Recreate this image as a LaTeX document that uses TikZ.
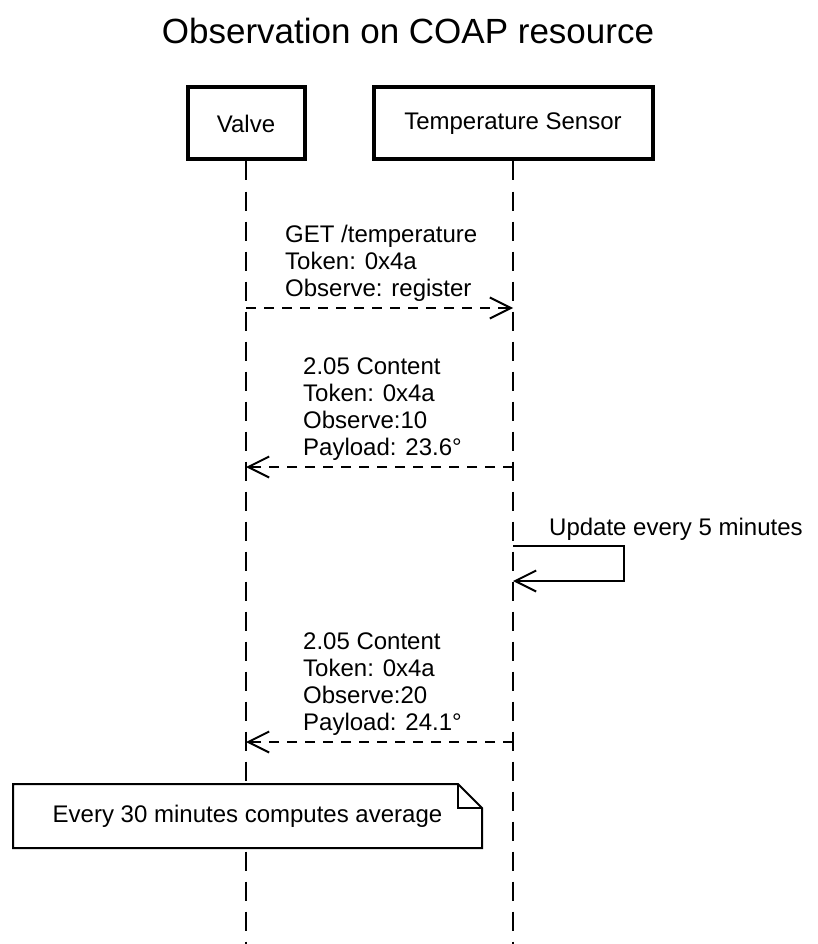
\documentclass[tikz,border=0pt]{standalone}
\usepackage{fontspec}
\setmainfont{Liberation Sans}
\usetikzlibrary{arrows.meta}
\usetikzlibrary{calc}

\begin{document}
\begin{tikzpicture}[x=1pt, y=-1pt,
  txt/.style={font=\fontsize{24}{27}\selectfont},
  actor/.style={txt, draw, line width=4pt, minimum height=72pt, inner sep=0pt},
  life/.style={line width=2pt, dash pattern=on 19pt off 11pt},
  msg/.style={line width=2pt, dash pattern=on 10pt off 8pt,
    -{Straight Barb[length=21pt, width=21pt, line width=2pt]}},
  selfmsg/.style={line width=2pt,
    -{Straight Barb[length=21pt, width=21pt, line width=2pt]}},
  lbl/.style={txt, anchor=south west, align=left, inner sep=0pt}]
\useasboundingbox (0,0) rectangle (817,944);
% title and participants
\node[font=\fontsize{35}{40}\selectfont] (title) at (408,31) {Observation on COAP resource};
\node[actor, minimum width=117pt] (valve) at (246,123.5) {Valve};
\node[actor, minimum width=279pt] (sensor) at (513,123.5) {Temperature Sensor};
\coordinate (valve-end) at (246,944);
\coordinate (sensor-end) at (513,944);
\foreach \a in {valve, sensor} {
 \draw[life] (\a.south) --(\a-end);
}
% register
\coordinate (v1) at (246,308);
\coordinate (s1) at (513,308);
\draw[msg] (v1)--(s1);
\node[lbl] (reg) at ($(v1)+(39,-6)$) {GET /temperature\\Token: 0x4a\\Observe: register};
% first notification
\coordinate (v2) at (246,467);
\coordinate (s2) at (513,467);
\draw[msg] (s2)--(v2);
\node[lbl] (notify1) at ($(v2)+(57,-6)$) {2.05 Content\\Token: 0x4a\\Observe:10\\Payload: 23.6\textdegree};
% periodic update
\coordinate (s3) at (513,546);
\coordinate (s4) at (513,581);
\draw[selfmsg] (s3) --++(111,0) |- (s4);
\node[lbl] (update) at ($(s3)+(36,-5)$) {Update every 5 minutes};
% second notification
\coordinate (v5) at (246,742);
\coordinate (s5) at (513,742);
\draw[msg] (s5)--(v5);
\node[lbl] (notify2) at ($(v5)+(57,-6)$) {2.05 Content\\Token: 0x4a\\Observe:20\\Payload: 24.1\textdegree};
% note on valve
\coordinate (nw) at (13,784);
\coordinate (se) at (482,848);
\def\fold{24}
\draw[line width=2pt, fill=white] (nw) -- ($(se|-nw)+(-\fold,0)$) -- ($(se|-nw)+(0,\fold)$) -- (se) -- (nw|-se) -- cycle;
\draw[line width=2pt] ($(se|-nw)+(-\fold,0)$) --++(0,\fold) --++(\fold,0);
\node[txt] (avg) at ($(nw)!0.5!(se)$) {Every 30 minutes computes average};
\end{tikzpicture}
\end{document}
